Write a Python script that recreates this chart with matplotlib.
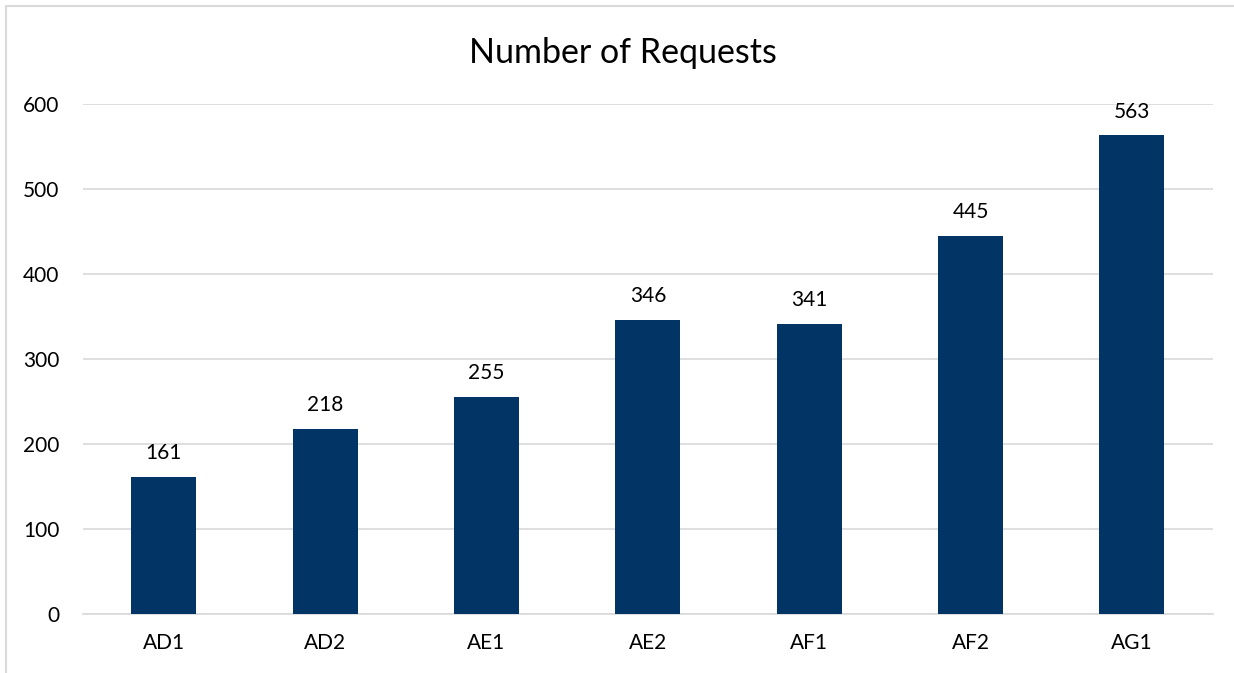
import matplotlib
matplotlib.use("Agg")
import matplotlib.pyplot as plt
from matplotlib.patches import Rectangle

categories = ["AD1", "AD2", "AE1", "AE2", "AF1", "AF2", "AG1"]
values = [161, 218, 255, 346, 341, 445, 563]
yticks = [0, 100, 200, 300, 400, 500, 600]

plt.rcParams['font.family'] = ['Lato', 'DejaVu Sans']

fig = plt.figure(figsize=(12.34, 6.73), dpi=100)
ax = fig.add_axes([0.0673, 0.0877, 0.9154, 0.7578])

x = range(len(categories))
bars = ax.bar(x, values, width=0.403, color="#023466", zorder=3)

ax.set_xlim(-0.5, len(categories) - 0.5)
ax.set_ylim(0, 600)
ax.set_yticks(yticks)
ax.set_xticks(list(x))
ax.set_xticklabels(categories)
ax.tick_params(axis='both', length=0, labelsize=15, colors="#000000")
ax.tick_params(axis='y', pad=17)
ax.tick_params(axis='x', pad=14)
ax.grid(axis='y', color="#d9d9d9", linewidth=1.2, zorder=0)
for s in ["top", "right", "left"]:
    ax.spines[s].set_visible(False)
ax.spines["bottom"].set_color("#d9d9d9")
ax.spines["bottom"].set_linewidth(1.2)

for xi, v in zip(x, values):
    ax.annotate(str(v), (xi, v), xytext=(0, 10), textcoords="offset points",
                ha="center", va="bottom", fontsize=15, color="#000000")

fig.text(0.505, 0.921, "Number of Requests", ha="center", va="center", fontsize=24.5, color="#000000")

fig.patches.append(Rectangle((6/1234, -0.01), 1.1, 1 - 6/673 + 0.01, transform=fig.transFigure,
                             fill=False, edgecolor="#d9d9d9", linewidth=1.5, zorder=0))

fig.savefig("out.png", dpi=100)
